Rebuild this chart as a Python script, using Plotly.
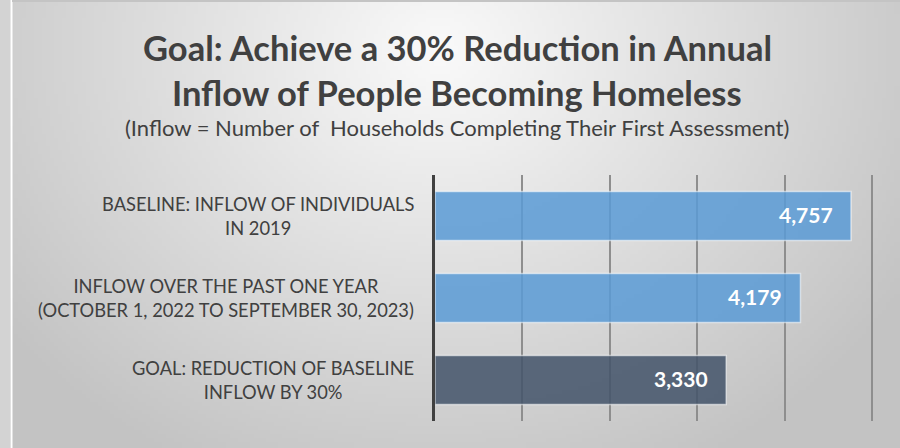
import base64, struct, zlib
import numpy as np
import plotly.graph_objects as go

# ---- data ----
categories = [
    "BASELINE: INFLOW OF INDIVIDUALS<br>IN 2019",
    "INFLOW OVER THE PAST ONE YEAR<br>(OCTOBER 1, 2022 TO SEPTEMBER 30, 2023)",
    "GOAL: REDUCTION OF BASELINE<br>INFLOW BY 30%",
]
values = [4757, 4179, 3330]
grid_ticks = [1000, 2000, 3000, 4000, 5000]
bar_colors = ["rgba(91,155,213,0.86)", "rgba(91,155,213,0.86)", "rgba(68,84,106,0.86)"]

W, H = 900, 448
ML, MR, MT, MB = 435, 26, 175, 27
PW, PH = W - ML - MR, H - MT - MB


# ---- background gradient image (style only) ----
def make_png(arr):
    h, w, _ = arr.shape
    raw = b"".join(b"\x00" + arr[i].tobytes() for i in range(h))

    def chunk(t, d):
        c = struct.pack(">I", len(d)) + t + d
        return c + struct.pack(">I", zlib.crc32(t + d) & 0xFFFFFFFF)

    png = b"\x89PNG\r\n\x1a\n" + chunk(b"IHDR", struct.pack(">IIBBBBB", w, h, 8, 2, 0, 0, 0))
    png += chunk(b"IDAT", zlib.compress(raw, 9)) + chunk(b"IEND", b"")
    return "data:image/png;base64," + base64.b64encode(png).decode()


gw, gh = 225, 112
xs = (np.arange(gw) + 0.5) * W / gw
ys = (np.arange(gh) + 0.5) * H / gh
X, Y = np.meshgrid(xs, ys)
d = np.sqrt(((X - 440) / 560) ** 2 + ((Y - 50) / 480) ** 2)
val = np.clip(250 - 56 * d, 195, 250)
img = np.repeat(val[:, :, None], 3, axis=2).astype(np.uint8)
bg_uri = make_png(img)

fig = go.Figure()
fig.add_trace(go.Bar(
    x=values, y=categories, orientation="h", width=0.6,
    marker=dict(color=bar_colors, line=dict(color="rgba(255,255,255,0.55)", width=1.5)),
    hoverinfo="skip",
))

annotations = []
for c, v in zip(categories, values):
    annotations.append(dict(
        x=v, y=c, xref="x", yref="y", text=f"<b>{v:,}</b>", showarrow=False,
        xanchor="right", xshift=-16, yshift=2, font=dict(family="Lato", size=21, color="white"),
    ))
    annotations.append(dict(
        x=0, y=c, xref="paper", yref="y", text=c, showarrow=False, align="center",
        xanchor="right", xshift=-19, font=dict(family="Lato", size=18.3, color="#404040"),
    ))

annotations += [
    dict(x=457, y=H - 47, xref="paper", yref="paper", text="<b>Goal: Achieve a 30% Reduction in Annual</b>",
         showarrow=False, font=dict(family="Lato", size=34.5, color="#404040"), xanchor="center", yanchor="middle"),
    dict(x=457, y=H - 92, xref="paper", yref="paper", text="<b>Inflow of People Becoming Homeless</b>",
         showarrow=False, font=dict(family="Lato", size=34.5, color="#404040"), xanchor="center", yanchor="middle"),
    dict(x=457, y=H - 128, xref="paper", yref="paper",
         text="(Inflow = Number of  Households Completing Their First Assessment)",
         showarrow=False, font=dict(family="Lato", size=22, color="#404040"), xanchor="center", yanchor="middle"),
]
# convert pixel positions of titles into paper coords
for a in annotations[-3:]:
    a["x"] = (a["x"] - ML) / PW
    a["y"] = (a["y"] - MB) / PH

fig.update_layout(
    width=W, height=H,
    margin=dict(l=ML, r=MR, t=MT, b=MB, pad=0),
    paper_bgcolor="#d6d6d6", plot_bgcolor="rgba(0,0,0,0)",
    showlegend=False,
    xaxis=dict(range=[0, 5020], tickvals=grid_ticks, showgrid=True,
               gridcolor="#8e8e8e", gridwidth=1.5,
               zeroline=False, showticklabels=False, showline=False, fixedrange=True),
    yaxis=dict(autorange="reversed", showticklabels=False, showgrid=False, zeroline=False,
               showline=True, linecolor="#404040", linewidth=3, fixedrange=True),
    annotations=annotations,
    images=[dict(source=bg_uri, xref="paper", yref="paper",
                 x=-ML / PW, y=1 + MT / PH, sizex=W / PW, sizey=H / PH,
                 sizing="stretch", xanchor="left", yanchor="top", layer="below")],
    shapes=[
        dict(type="rect", xref="paper", yref="paper", x0=-ML / PW, x1=(10 - ML) / PW,
             y0=-MB / PH, y1=1 + MT / PH, fillcolor="#d3d3d3", line=dict(width=0), layer="below"),
        dict(type="line", xref="paper", yref="paper", x0=(11.5 - ML) / PW, x1=(11.5 - ML) / PW,
             y0=-MB / PH, y1=1 + MT / PH, line=dict(color="white", width=2), layer="below"),
        dict(type="line", xref="paper", yref="paper", x0=(12 - ML) / PW, x1=1 + MR / PW,
             y0=1 + (MT - 1) / PH, y1=1 + (MT - 1) / PH, line=dict(color="#c4c4c4", width=2), layer="below"),
    ],
)

fig.write_html("out.html", config={"displayModeBar": False},
               post_script="document.body.style.margin='0';document.body.style.overflow='hidden';")
